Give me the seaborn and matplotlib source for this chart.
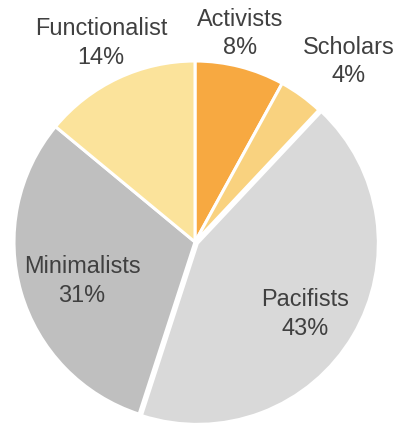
import matplotlib
matplotlib.use("Agg")
import matplotlib.pyplot as plt
import seaborn as sns
import numpy as np

categories = ["Activists", "Scholars", "Pacifists", "Minimalists", "Functionalist"]
values = [8, 4, 43, 31, 14]
colors = ["#F7A941", "#F9D27F", "#D9D9D9", "#BFBFBF", "#FBE39B"]
# label placement (style): radial distance and angular nudge in degrees
label_dist = [1.18, 1.31, 0.727, 0.66, 1.215]
label_shift = [2.2, -4.5, -2.6, 2.8, 0.1]
explode = [0, 0, 0.015, 0, 0]

sns.set_theme(style="white")
plt.rcParams["font.family"] = ["Liberation Sans", "DejaVu Sans"]

W, H = 399, 425
fig = plt.figure(figsize=(W / 100, H / 100), dpi=100)
cx, cy, r = 195, 242, 181
ax = fig.add_axes([(cx - r) / W, (H - cy - r) / H, 2 * r / W, 2 * r / H])

wedges, _ = ax.pie(values, colors=colors, startangle=90, counterclock=False,
                   explode=explode, radius=1,
                   wedgeprops=dict(edgecolor="white", linewidth=2.2))
ax.set_xlim(-1, 1)
ax.set_ylim(-1, 1)
ax.set_aspect("equal")
ax.axis("off")

total = sum(values)
for w, cat, v, d, s in zip(wedges, categories, values, label_dist, label_shift):
    ang = np.deg2rad((w.theta1 + w.theta2) / 2 + s)
    x, y = d * np.cos(ang), d * np.sin(ang)
    ax.text(x, y, f"{cat}\n{round(100 * v / total)}%", ha="center", va="center",
            fontsize=16.9, color="#404040", linespacing=1.3, clip_on=False)

fig.savefig("out.png", dpi=100)
